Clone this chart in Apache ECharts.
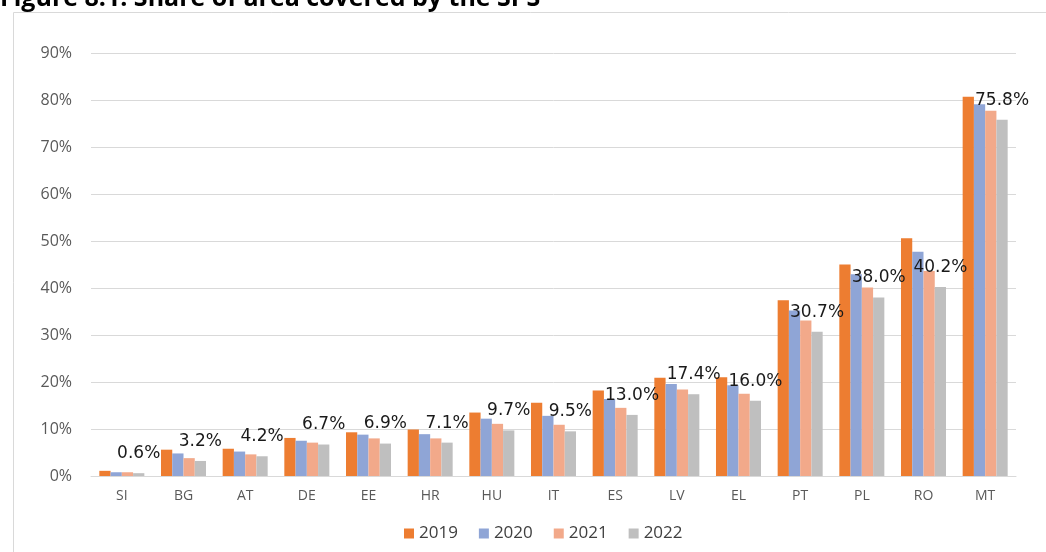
<!DOCTYPE html>
<html>
<head>
<meta charset="utf-8">
<script src="https://cdn.jsdelivr.net/npm/echarts@6/dist/echarts.min.js"></script>
<style>
html,body{margin:0;padding:0;background:#fff;}
#c{width:1046px;height:552px;}
</style>
</head>
<body>
<div id="c"></div>
<script>
var categories = ['SI','BG','AT','DE','EE','HR','HU','IT','ES','LV','EL','PT','PL','RO','MT'];
var years = ['2019','2020','2021','2022'];
var v2019 = [1.1, 5.6, 5.8, 8.1, 9.3, 9.9, 13.5, 15.6, 18.2, 20.9, 21.0, 37.4, 45.0, 50.6, 80.7];
var v2020 = [0.8, 4.8, 5.2, 7.5, 8.8, 8.9, 12.2, 12.8, 16.4, 19.6, 19.3, 35.2, 42.9, 47.7, 79.1];
var v2021 = [0.8, 3.8, 4.6, 7.1, 8.0, 8.0, 11.1, 10.9, 14.5, 18.4, 17.5, 33.1, 40.1, 43.6, 77.7];
var v2022 = [0.6, 3.2, 4.2, 6.7, 6.9, 7.1, 9.7, 9.5, 13.0, 17.4, 16.0, 30.7, 38.0, 40.2, 75.8];
var yTicks = {min: 0, max: 90, interval: 10};
var colors = ['#ED7D31', '#8FA5D6', '#F2A98A', '#BFBFBF'];

var chart = echarts.init(document.getElementById('c'), null, {renderer: 'canvas'});
var seriesData = [v2019, v2020, v2021, v2022];
var series = seriesData.map(function (d, i) {
  var s = {
    name: years[i],
    type: 'bar',
    data: d,
    barGap: '0%',
    barCategoryGap: '27%',
    itemStyle: {color: colors[i]},
    emphasis: {disabled: true}
  };
  if (i === 3) {
    s.label = {
      show: true,
      position: 'top',
      distance: 11,
      formatter: function (p) { return p.value.toFixed(1) + '%'; },
      fontFamily: 'DejaVu Sans',
      fontSize: 17,
      color: '#1a1a1a'
    };
  }
  return s;
});

chart.setOption({
  animation: false,
  color: colors,
  title: {
    text: 'Figure 8.1: Share of area covered by the SPS',
    left: 0,
    top: -14,
    padding: 0,
    textStyle: {fontFamily: 'Open Sans', fontWeight: 'bold', fontSize: 25, color: '#000'}
  },
  graphic: [{
    type: 'rect',
    shape: {x: 13.5, y: 12.5, width: 1040, height: 560},
    style: {fill: 'none', stroke: '#d9d9d9', lineWidth: 1},
    silent: true,
    z: -10
  }],
  grid: {left: 91, right: 30, top: 53, bottom: 76, containLabel: false},
  legend: {
    data: years,
    bottom: 10,
    left: 404,
    itemWidth: 10,
    itemHeight: 10,
    itemGap: 21,
    icon: 'rect',
    padding: 0,
    textStyle: {fontFamily: 'Open Sans', fontSize: 17, color: '#404040'}
  },
  xAxis: {
    type: 'category',
    data: categories,
    axisLine: {lineStyle: {color: '#d9d9d9', width: 1}},
    axisTick: {show: false},
    axisLabel: {fontFamily: 'Open Sans', fontSize: 14, color: '#595959', margin: 13}
  },
  yAxis: {
    type: 'value',
    min: yTicks.min,
    max: yTicks.max,
    interval: yTicks.interval,
    axisLine: {show: false},
    axisTick: {show: false},
    splitLine: {lineStyle: {color: '#d9d9d9', width: 1}},
    axisLabel: {formatter: '{value}%', fontFamily: 'Open Sans', fontSize: 16, color: '#595959', margin: 19}
  },
  series: series
});
</script>
</body>
</html>
